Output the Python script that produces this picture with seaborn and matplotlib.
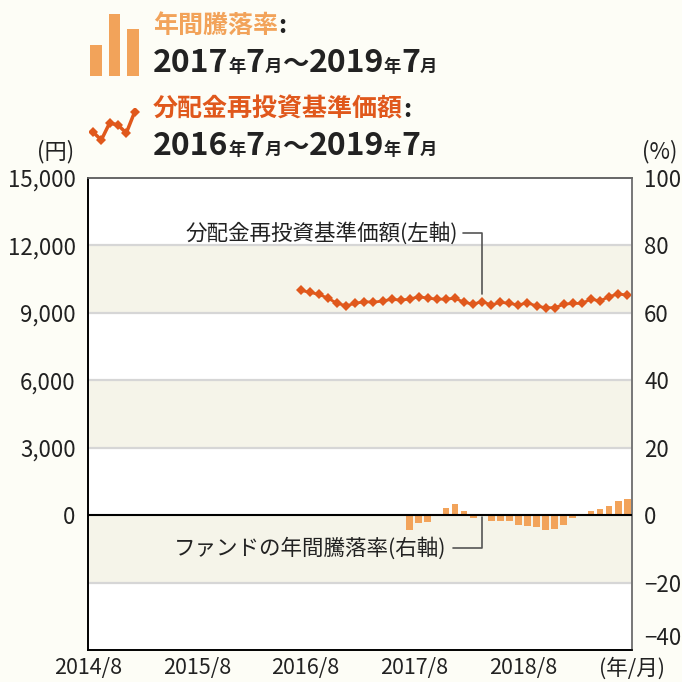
import matplotlib
matplotlib.use("Agg")
import matplotlib.pyplot as plt
import numpy as np
import pandas as pd
import seaborn as sns

# ---------------- data ----------------
nav_months = ["2016/7", "2016/8", "2016/9", "2016/10", "2016/11", "2016/12",
              "2017/1", "2017/2", "2017/3", "2017/4", "2017/5", "2017/6",
              "2017/7", "2017/8", "2017/9", "2017/10", "2017/11", "2017/12",
              "2018/1", "2018/2", "2018/3", "2018/4", "2018/5", "2018/6",
              "2018/7", "2018/8", "2018/9", "2018/10", "2018/11", "2018/12",
              "2019/1", "2019/2", "2019/3", "2019/4", "2019/5", "2019/6", "2019/7"]
nav_values = [10000, 9910, 9820, 9650, 9420, 9320, 9420, 9500, 9470, 9530,
              9600, 9570, 9610, 9720, 9650, 9610, 9610, 9650, 9470, 9390,
              9500, 9350, 9470, 9420, 9350, 9450, 9300, 9230, 9230, 9380,
              9420, 9420, 9610, 9530, 9720, 9840, 9790]

ret_months = ["2017/7", "2017/8", "2017/9", "2017/10", "2017/11", "2017/12",
              "2018/1", "2018/2", "2018/3", "2018/4", "2018/5", "2018/6",
              "2018/7", "2018/8", "2018/9", "2018/10", "2018/11", "2018/12",
              "2019/1", "2019/2", "2019/3", "2019/4", "2019/5", "2019/6", "2019/7"]
ret_values = [-4.3, -2.3, -2.0, 0.0, 2.1, 3.3, 1.2, -0.8, 0.3, -1.7,
              -1.7, -1.7, -2.9, -3.2, -3.5, -4.3, -4.0, -2.9, -0.8, 0.0,
              1.2, 1.8, 2.8, 4.2, 4.7]

x_tick_labels = ["2014/8", "2015/8", "2016/8", "2017/8", "2018/8", "(年/月)"]
left_ticks = [0, 3000, 6000, 9000, 12000, 15000]
right_ticks = [-40, -20, 0, 20, 40, 60, 80, 100]

icon_bar_heights = [31, 62, 47]
icon_line_values = [8, 0, 17, 15, 7, 28]

# ---------------- style ----------------
BG = "#FDFDF6"
BAND = "#F5F4E9"
GRID = "#D6D6D6"
LINE_C = "#E0581C"
BAR_C = "#F2A35A"
TXT = "#222222"

sns.set_theme(style="white")
plt.rcParams["font.family"] = ["Noto Sans CJK JP", "DejaVu Sans"]
plt.rcParams["axes.unicode_minus"] = False

W, H = 682, 682
fig = plt.figure(figsize=(W / 100, H / 100), dpi=100, facecolor=BG)


def month_pos(s):
    y, m = s.split("/")
    return (int(y) - 2014) * 12 + (int(m) - 8) + 0.5


nav_df = pd.DataFrame({"x": [month_pos(m) for m in nav_months], "v": nav_values})
ret_df = pd.DataFrame({"x": [month_pos(m) for m in ret_months], "v": ret_values})

ax = fig.add_axes([88 / W, 1 - 650 / H, (631.7 - 88) / W, (650 - 178) / H])
ax.set_facecolor("white")
ax2 = ax.twinx()

# bands and gridlines
for lo, hi in [(9000, 12000), (3000, 6000), (-3000, 0)]:
    ax.axhspan(lo, hi, color=BAND, lw=0, zorder=0)
for g in [12000, 9000, 6000, 3000, -3000]:
    ax.axhline(g, color=GRID, lw=1.6, zorder=0.5)

# line (left axis)
sns.lineplot(data=nav_df, x="x", y="v", ax=ax, color=LINE_C, linewidth=2,
             marker="D", markersize=5.2, markeredgewidth=0, zorder=3)

# bars (right axis)
sns.barplot(data=ret_df, x="x", y="v", ax=ax2, color=BAR_C, native_scale=True,
            width=0.75, errorbar=None, saturation=1, zorder=2, linewidth=0)
ax2.axhline(0, color="black", lw=1.5, zorder=4)

ax.set_xlim(0, 60)
ax.set_ylim(-6000, 15000)
ax2.set_ylim(-40, 100)
ax.set_xlabel("")
ax.set_ylabel("")
ax2.set_xlabel("")
ax2.set_ylabel("")

ax.set_xticks([0, 12, 24, 36, 48, 60])
ax.set_xticklabels(x_tick_labels)
ax.set_xticks([12, 24, 36, 48], minor=True)
ax.tick_params(axis="x", which="major", length=0, pad=5, labelsize=15.5, colors=TXT)
ax.tick_params(axis="x", which="minor", direction="in", length=6, width=1, color="black", bottom=True)

ax.set_yticks(left_ticks)
ax.set_yticklabels([f"{v:,}" for v in left_ticks])
ax.tick_params(axis="y", length=0, pad=9, labelsize=16, colors=TXT)
ax2.set_yticks(right_ticks)
ax2.set_yticklabels([str(v).replace("-", "\u2212") for v in right_ticks])
ax2.tick_params(axis="y", length=0, pad=9, labelsize=16, colors=TXT)
ax2.get_yticklabels()[0].set_va("bottom")

for a in (ax, ax2):
    a.grid(False)
    a.spines["left"].set_color("black")
    a.spines["bottom"].set_color("black")
    a.spines["top"].set_color("#666666")
    a.spines["right"].set_color("#777777")
    for s in a.spines.values():
        s.set_linewidth(1.2)
        s.set_visible(True)

# annotations
anchor = month_pos("2018/3")
ax.text(40.8, 12550, "分配金再投資基準価額(左軸)", ha="right", va="center",
        fontsize=15.5, color=TXT, zorder=5)
ax.plot([41.4, anchor, anchor], [12550, 12550, 9830], color="#555555", lw=1.2, zorder=5)
ax2.text(39.6, -9.8, "ファンドの年間騰落率(右軸)", ha="right", va="center",
         fontsize=15.5, color=TXT, zorder=5)
ax2.plot([40.3, anchor, anchor], [-9.8, -9.8, -0.6], color="#555555", lw=1.2, zorder=5)

# axis unit labels
fig.text(56 / W, 1 - 152 / H, "(円)", ha="center", va="center", fontsize=16, color=TXT)
fig.text(660 / W, 1 - 152 / H, "(%)", ha="center", va="center", fontsize=16, color=TXT)

# ---------------- legend block ----------------
iax = fig.add_axes([87 / W, 1 - 76 / H, 55 / W, 62 / H])
sns.barplot(x=["a", "b", "c"], y=icon_bar_heights, ax=iax, color=BAR_C,
            width=0.65, saturation=1, errorbar=None, linewidth=0)
iax.set_xlim(-0.5, 2.5)
iax.set_ylim(0, 62)
iax.axis("off")

lax = fig.add_axes([88.8 / W, 1 - 144 / H, 50 / W, 36 / H])
sns.lineplot(x=list(range(len(icon_line_values))), y=icon_line_values, ax=lax,
             color=LINE_C, linewidth=2.5, marker="D", markersize=5.5, markeredgewidth=0)
lax.set_xlim(-0.5, 5.5)
lax.set_ylim(-4, 32)
lax.axis("off")

fig.canvas.draw()
renderer = fig.canvas.get_renderer()


def draw_pieces(x0, base_y, pieces):
    x = x0
    for txt, size, color in pieces:
        t = fig.text(x / W, 1 - base_y / H, txt, fontsize=size, fontweight="bold",
                     color=color, ha="left", va="baseline")
        bb = t.get_window_extent(renderer)
        x = bb.x1


BIG, SMALL = 23, 12.5
draw_pieces(153, 33, [("年間騰落率", 18, BAR_C), (":", 18, TXT)])
draw_pieces(153, 72, [("2017", BIG, TXT), ("年", SMALL, TXT), ("7", BIG, TXT), ("月", SMALL, TXT),
                      ("〜", 19, TXT), ("2019", BIG, TXT), ("年", SMALL, TXT), ("7", BIG, TXT),
                      ("月", SMALL, TXT)])
draw_pieces(153, 117, [("分配金再投資基準価額", 18, LINE_C), (":", 18, TXT)])
draw_pieces(153, 155, [("2016", BIG, TXT), ("年", SMALL, TXT), ("7", BIG, TXT), ("月", SMALL, TXT),
                       ("〜", 19, TXT), ("2019", BIG, TXT), ("年", SMALL, TXT), ("7", BIG, TXT),
                       ("月", SMALL, TXT)])

fig.savefig("out.png", dpi=100, facecolor=BG)
